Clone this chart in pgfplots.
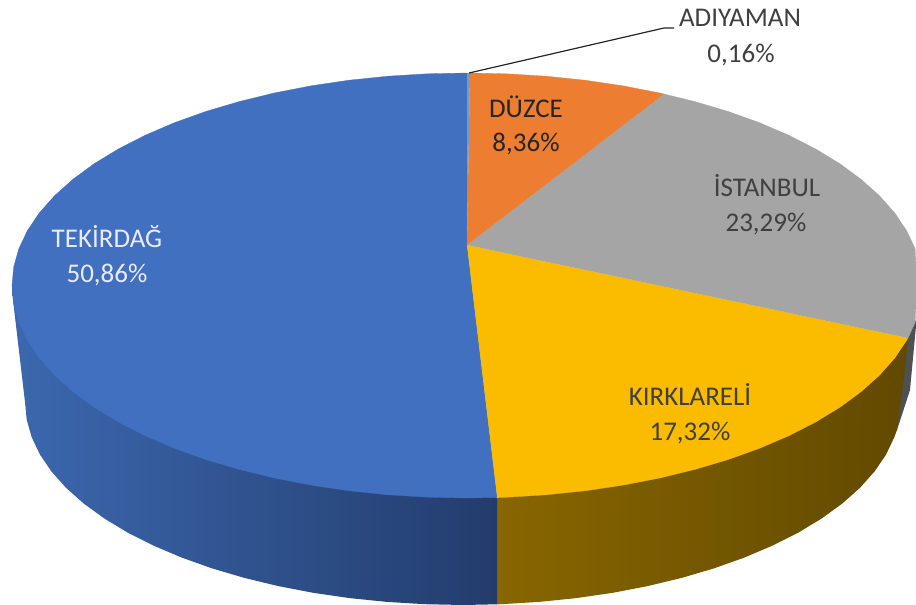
\documentclass[border=0pt]{standalone}
\usepackage{pgfplots}
\pgfplotsset{compat=1.18}
\usepackage{fontspec}
\setmainfont{Carlito}
\definecolor{cblue}{HTML}{4070BF}
\definecolor{corange}{HTML}{ED7D31}
\definecolor{cgray}{HTML}{A5A5A5}
\definecolor{cyellow}{HTML}{FBBC00}
\definecolor{csliver}{HTML}{6F9BD0}
\definecolor{cdark}{HTML}{4E5054}
\definecolor{txt}{HTML}{404040}
\newcommand{\lab}[5]{\node[anchor=base,text=#4,font=\fontsize{27}{32}\selectfont,inner sep=0pt] at (axis cs:#1,#2) {#5};}
\begin{document}
\begin{tikzpicture}
\begin{axis}[scale only axis,width=916pt,height=605pt,xmin=0,xmax=916,ymin=0,ymax=605,y dir=reverse,axis lines=none,enlargelimits=false,clip=true]
% side wall: dark grey (Istanbul)
\addplot[draw=none,fill=cdark] coordinates {(905,340)(916,320)(916,326)(910,390)(897,430)(890,400)};
% side wall: Kirklareli
\addplot[draw=none,left color={rgb,255:red,136;green,102;blue,0},middle color={rgb,255:red,97;green,73;blue,0},right color={rgb,255:red,97;green,73;blue,0}] coordinates {(497,498)(908,338)(905,370)(897,430)(894.3,437.2)(886.1,454.5)(874.6,471.4)(860.0,487.8)(842.3,503.5)(821.8,518.4)(798.5,532.5)(772.7,545.5)(744.5,557.5)(714.2,568.3)(682,577.8)(648.1,586.0)(612.8,592.8)(576.4,598.1)(539.0,601.9)(501.2,604.2)(497,604.3)};
% side wall: Tekirdag
\addplot[draw=none,left color={rgb,255:red,60;green,104;blue,175},right color={rgb,255:red,35;green,60;blue,108}] coordinates {(497,498)(497,604.3)(463,605)(424.8,604.2)(387.0,601.9)(349.6,598.1)(313.2,592.8)(277.9,586.0)(244,577.8)(211.8,568.3)(181.5,557.5)(153.3,545.5)(127.5,532.5)(104.2,518.4)(83.7,503.5)(66.0,487.8)(51.4,471.4)(39.9,454.5)(31.7,437.2)(26.7,419.7)(25,402)(13,300)(12,285.5)};
% top: Tekirdag 50,86
\addplot[draw=cblue,line width=.3pt,fill=cblue] coordinates {(467,245)(497.2,497.5)(467,498)(427.3,497.2)(388.0,494.8)(349.2,490.8)(311.4,485.2)(274.7,478.1)(239.5,469.5)(206.0,459.6)(174.5,448.3)(145.3,435.8)(118.5,422.1)(94.3,407.4)(73.0,391.75)(54.6,375.3)(39.4,358.2)(27.5,340.5)(18.9,322.4)(13.7,304.0)(12,285.5)(13.7,267.0)(18.9,248.6)(27.5,230.5)(39.4,212.8)(54.6,195.7)(73.0,179.25)(94.3,163.6)(118.5,148.9)(145.3,135.2)(174.5,122.7)(206.0,111.4)(239.5,101.5)(274.7,92.9)(311.4,85.8)(349.2,80.2)(388.0,76.2)(427.3,73.8)(467,73)};
% top: Kirklareli 17,32
\addplot[draw=cyellow,line width=.3pt,fill=cyellow] coordinates {(467,245)(908,338)(906.5,340.5)(894.6,358.2)(879.4,375.3)(861.0,391.75)(839.7,407.4)(815.5,422.1)(788.7,435.8)(759.5,448.3)(728.0,459.6)(694.5,469.5)(659.3,478.1)(622.6,485.2)(584.8,490.8)(546.0,494.8)(506.7,497.2)(497.2,497.5)};
% top: Istanbul 23,29
\addplot[draw=cgray,line width=.3pt,fill=cgray] coordinates {(467,245)(664,94)(694.5,101.5)(728.0,111.4)(759.5,122.7)(788.7,135.2)(815.5,148.9)(839.7,163.6)(861.0,179.25)(879.4,195.7)(894.6,212.8)(906.5,230.5)(915.1,248.6)(916,267)(916,285.5)(916,304)(915.1,322.4)(908,338)};
% top: Duzce 8,36
\addplot[draw=corange,line width=.3pt,fill=corange] coordinates {(467,245)(470,73)(506.7,73.8)(546.0,76.2)(584.8,80.2)(622.6,85.8)(659.3,92.9)(664,94)};
% top: Adiyaman 0,16
\addplot[draw=none,fill=csliver] coordinates {(467,245)(467,73)(470,73)};
% leader
\addplot[draw=black!85,line width=1.2pt] coordinates {(469,73)(664,28)(674,28)};
\lab{740}{27}{}{txt}{ADIYAMAN}
\lab{741}{62}{}{txt}{0,16\%}
\lab{526}{117}{}{black!85}{DÜZCE}
\lab{526}{151}{}{black!85}{8,36\%}
\lab{767}{196}{}{txt}{İSTANBUL}
\lab{766}{231}{}{txt}{23,29\%}
\lab{690}{405}{}{txt}{KIRKLARELİ}
\lab{690}{440}{}{txt}{17,32\%}
\lab{107}{247}{}{white!92!blue}{TEKİRDAĞ}
\lab{107}{282}{}{white!92!blue}{50,86\%}
\end{axis}
\path (current axis.south west) rectangle (current axis.north east);
\end{tikzpicture}
\end{document}
